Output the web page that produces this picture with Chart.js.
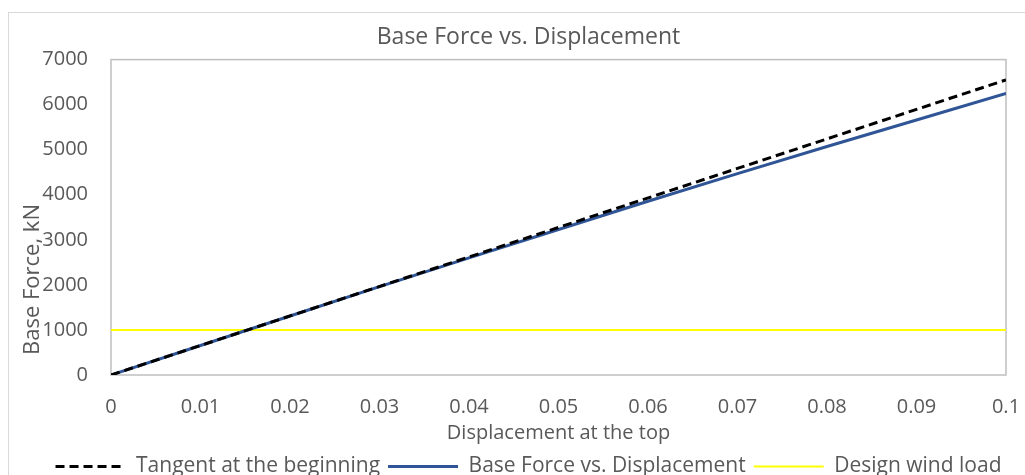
<!DOCTYPE html>
<html>
<head>
<meta charset="utf-8">
<script src="https://cdn.jsdelivr.net/npm/chart.js@4.4.1/dist/chart.umd.min.js"></script>
<style>
    body { margin: 0; background: #fff; }
    #wrap { position: relative; width: 1025px; height: 475px; }
    #frame { position: absolute; left: 8px; top: 12px; right: -2px; bottom: -2px;
             border-left: 1px solid #d9d9d9; border-top: 1px solid #d9d9d9; pointer-events: none; }
</style>
</head>
<body>
<div id="wrap">
    <canvas id="chart"></canvas>
    <div id="frame"></div>
</div>
<script>
// chart values
const displacement = [0, 0.01, 0.02, 0.03, 0.04, 0.05, 0.06, 0.07, 0.08, 0.09, 0.1];
const baseForce = [0, 655, 1310, 1960, 2600, 3230, 3855, 4470, 5070, 5660, 6250];
const tangentX = [0, 0.1];
const tangentY = [0, 6550];
const windX = [0, 0.1];
const windY = [1000, 1000];

const textColor = '#595959';
const fontFamily = '"Open Sans", sans-serif';

function toPoints(xs, ys) {
    return xs.map((x, i) => ({ x: x, y: ys[i] }));
}

// grey frame round the plot area
const plotFrame = {
    id: 'plotFrame',
    beforeDatasetsDraw(chart) {
        const { ctx, chartArea: a } = chart;
        ctx.save();
        ctx.strokeStyle = '#bfbfbf';
        ctx.lineWidth = 1.5;
        ctx.strokeRect(a.left, a.top, a.right - a.left, a.bottom - a.top);
        ctx.restore();
    }
};

// y axis title sits over the tick labels, like in the original
const yTitle = {
    id: 'yTitle',
    afterDraw(chart) {
        const ctx = chart.ctx;
        ctx.save();
        ctx.translate(33, 355);
        ctx.rotate(-Math.PI / 2);
        ctx.font = '22px ' + fontFamily;
        ctx.fillStyle = textColor;
        ctx.textAlign = 'left';
        ctx.textBaseline = 'middle';
        ctx.fillText('Base Force, kN', 0, 0);
        ctx.restore();
    }
};

const ctx = document.getElementById('chart').getContext('2d');
new Chart(ctx, {
    type: 'scatter',
    data: {
        datasets: [{
            label: 'Tangent at the beginning',
            data: toPoints(tangentX, tangentY),
            showLine: true,
            borderColor: '#000000',
            backgroundColor: '#000000',
            borderWidth: 3,
            borderDash: [9, 5],
            pointRadius: 0
        }, {
            label: 'Base Force vs. Displacement',
            data: toPoints(displacement, baseForce),
            showLine: true,
            borderColor: '#2f5597',
            backgroundColor: '#2f5597',
            borderWidth: 3,
            pointRadius: 0
        }, {
            label: 'Design wind load',
            data: toPoints(windX, windY),
            showLine: true,
            borderColor: '#ffff00',
            backgroundColor: '#ffff00',
            borderWidth: 2,
            pointRadius: 0
        }]
    },
    options: {
        responsive: true,
        maintainAspectRatio: false,
        animation: false,
        layout: { padding: { left: 32, right: 0, top: 0, bottom: -12 } },
        plugins: {
            title: {
                display: true,
                text: 'Base Force vs. Displacement',
                color: textColor,
                font: { family: fontFamily, size: 23, weight: 'normal' },
                padding: { top: 24, bottom: 8 }
            },
            legend: {
                position: 'bottom',
                labels: {
                    color: textColor,
                    font: { family: fontFamily, size: 21 },
                    usePointStyle: true,
                    pointStyle: 'line',
                    pointStyleWidth: 70,
                    padding: 8,
                    // scatter legend takes point style, so put the line dash back
                    generateLabels(chart) {
                        const items = Chart.defaults.plugins.legend.labels.generateLabels(chart);
                        items.forEach((item, i) => {
                            const ds = chart.data.datasets[i];
                            item.lineDash = ds.borderDash || [];
                            item.lineWidth = ds.borderWidth;
                            item.strokeStyle = ds.borderColor;
                        });
                        return items;
                    }
                }
            },
            tooltip: { enabled: false }
        },
        scales: {
            x: {
                type: 'linear',
                min: 0,
                max: 0.1,
                grid: { display: false, drawTicks: false },
                border: { display: false },
                ticks: {
                    stepSize: 0.01,
                    color: textColor,
                    font: { family: fontFamily, size: 20 },
                    padding: 20,
                    callback: v => +v.toFixed(2)
                },
                title: {
                    display: true,
                    text: 'Displacement at the top',
                    color: textColor,
                    font: { family: fontFamily, size: 20 },
                    padding: { top: -18, bottom: 3 }
                },
                afterFit: scale => { scale.paddingLeft = 0; scale.paddingRight = 19; }
            },
            y: {
                min: 0,
                max: 7000,
                grid: { display: false, drawTicks: false },
                border: { display: false },
                ticks: {
                    stepSize: 1000,
                    color: textColor,
                    font: { family: fontFamily, size: 20 },
                    padding: 23,
                    callback: v => String(v)
                },
                afterFit: scale => { scale.width = 79; }
            }
        }
    },
    plugins: [plotFrame, yTitle]
});
</script>
</body>
</html>
